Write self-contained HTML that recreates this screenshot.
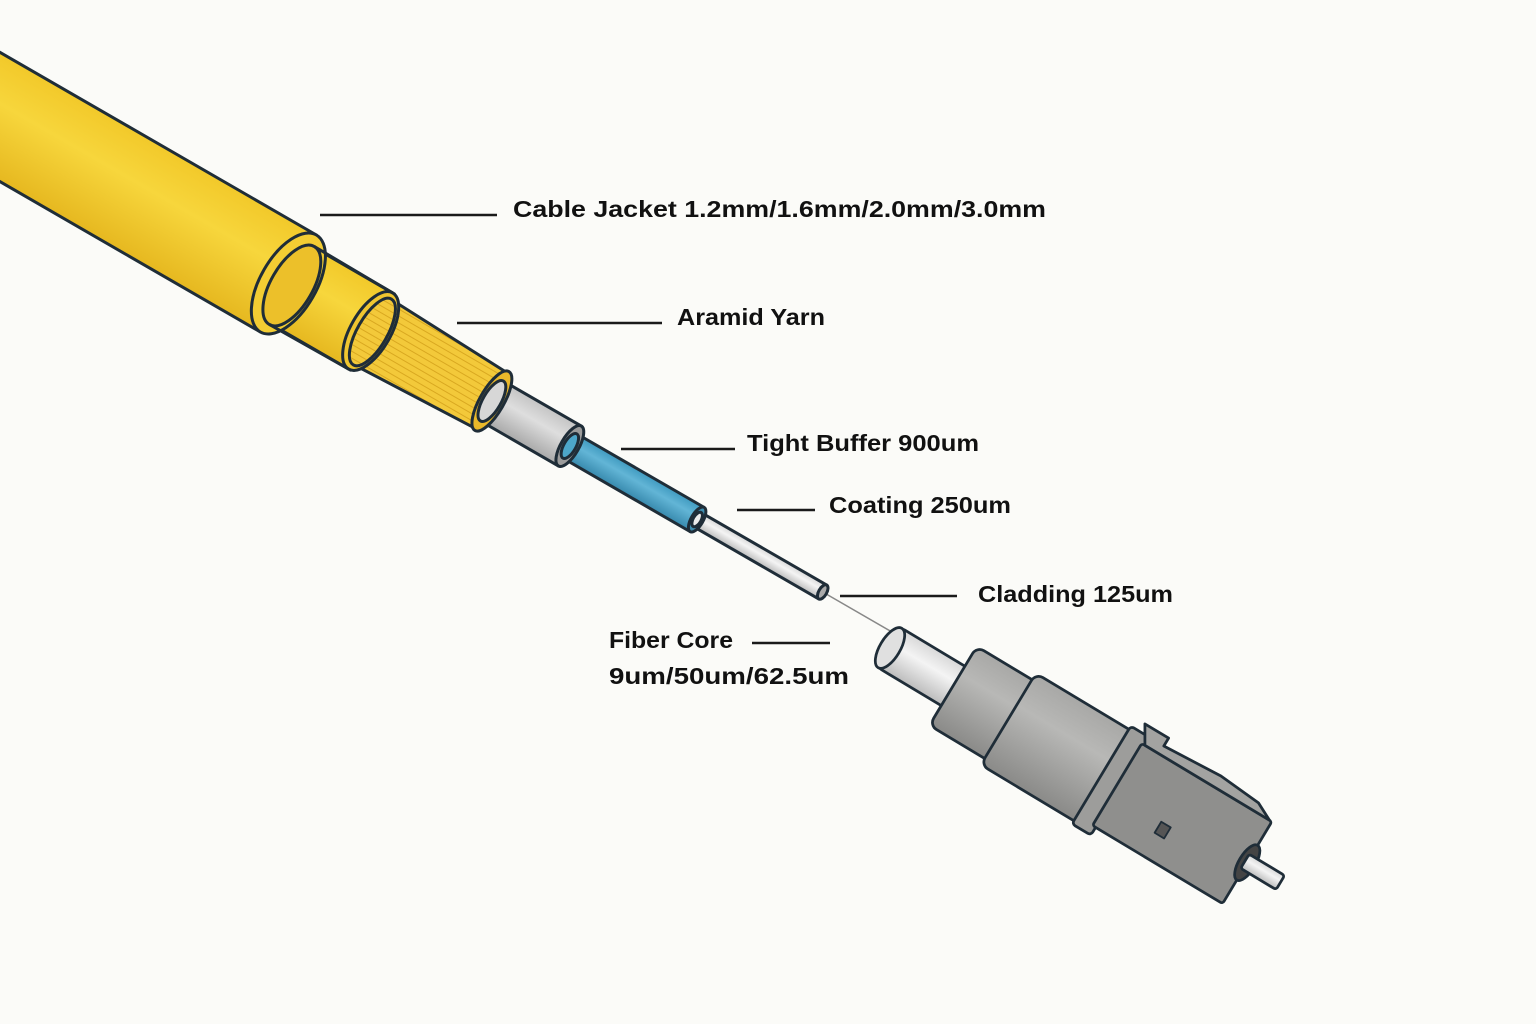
<!DOCTYPE html>
<html><head><meta charset="utf-8"><style>
html,body{margin:0;padding:0;background:#fbfbf8;}
svg{display:block}
text{font-family:"Liberation Sans",sans-serif;font-weight:bold;font-size:23px;fill:#111;}
</style></head><body>
<svg width="1536" height="1024" viewBox="0 0 1536 1024" xmlns="http://www.w3.org/2000/svg">
<defs>
<linearGradient id="yel" x1="0" y1="0" x2="0" y2="1"><stop offset="0" stop-color="#f2c92a"/><stop offset="0.4" stop-color="#f7d63c"/><stop offset="1" stop-color="#e6b820"/></linearGradient>
<linearGradient id="gry" x1="0" y1="0" x2="0" y2="1"><stop offset="0" stop-color="#c4c4c4"/><stop offset="0.4" stop-color="#dedede"/><stop offset="1" stop-color="#a9a9a9"/></linearGradient>
<linearGradient id="blu" x1="0" y1="0" x2="0" y2="1"><stop offset="0" stop-color="#3f9ac0"/><stop offset="0.4" stop-color="#62b5d6"/><stop offset="1" stop-color="#3789ad"/></linearGradient>
<linearGradient id="wht" x1="0" y1="0" x2="0" y2="1"><stop offset="0" stop-color="#d8d8d8"/><stop offset="0.4" stop-color="#f4f4f4"/><stop offset="1" stop-color="#bcbcbc"/></linearGradient>
<linearGradient id="con" x1="0" y1="0" x2="0" y2="1"><stop offset="0" stop-color="#a8a8a6"/><stop offset="0.35" stop-color="#b8b8b6"/><stop offset="1" stop-color="#8a8a88"/></linearGradient>
<pattern id="yarn" width="4" height="6" patternUnits="userSpaceOnUse"><rect width="4" height="6" fill="#f3c93a"/><line x1="0" y1="3" x2="4" y2="3" stroke="#d9a820" stroke-width="1"/></pattern>
</defs>
<g transform="translate(0,117) rotate(30)" stroke="#1f2d38" stroke-width="3" stroke-linejoin="round">
  <line x1="940" y1="0" x2="1045" y2="0" stroke="#888" stroke-width="1.5"/>
  <rect x="790" y="-8" width="160" height="16" fill="url(#wht)"/>
  <ellipse cx="950" cy="0" rx="4" ry="8" fill="#aaa"/>
  <rect x="640" y="-14" width="165" height="28" fill="url(#blu)"/>
  <ellipse cx="805" cy="0" rx="6" ry="14" fill="#3f8eb0"/>
  <ellipse cx="805" cy="0" rx="4" ry="8" fill="#ececec"/>
  <rect x="550" y="-23" width="108" height="46" fill="url(#gry)"/>
  <ellipse cx="658" cy="0" rx="9" ry="23" fill="#9c9c9c"/>
  <ellipse cx="658" cy="0" rx="6" ry="14" fill="#4da6c9"/>
  <path d="M420,-38 L568,-32 L568,32 L420,38 Z" fill="url(#yarn)"/>
  <ellipse cx="568" cy="0" rx="12" ry="34" fill="#e9b82a"/>
  <ellipse cx="568" cy="0" rx="9" ry="23" fill="#d7d7d7"/>
  <rect x="330" y="-44" width="100" height="88" fill="url(#yel)"/>
  <ellipse cx="428" cy="0" rx="20" ry="44" fill="#f0c630"/>
  <ellipse cx="430" cy="0" rx="15" ry="38" fill="url(#yarn)"/>
  <rect x="-60" y="-56" width="393" height="112" fill="url(#yel)"/>
  <ellipse cx="333" cy="0" rx="28" ry="56" fill="#f3cd33"/>
  <ellipse cx="337" cy="0" rx="21" ry="45" fill="#ecc02a"/>
  <path d="M337,-45 L428,-44 M337,45 L428,44" fill="none"/>
</g>
<g transform="translate(890,648) rotate(31) scale(0.92)" stroke="#1f2d38" stroke-width="3" stroke-linejoin="round">
  <rect x="0" y="-25" width="90" height="50" rx="4" fill="url(#wht)"/>
  <ellipse cx="0" cy="0" rx="11" ry="25" fill="#e0e0e0"/>
  <rect x="80" y="-50" width="80" height="100" rx="9" fill="url(#con)"/>
  <rect x="150" y="-58" width="125" height="116" rx="9" fill="url(#con)"/>
  <rect x="268" y="-62" width="24" height="124" rx="4" fill="#9d9d9b"/>
  <rect x="288" y="-52" width="165" height="104" rx="3" fill="#8f8f8d"/>
  <path d="M280,-72 L310,-72 L310,-62 L380,-66 L430,-62 L450,-52 L292,-52 Z" fill="#a3a3a1"/>
  <rect x="350" y="10" width="12" height="14" fill="#555" stroke-width="2"/>
  <ellipse cx="453" cy="0" rx="9" ry="22" fill="#444"/>
  <rect x="450" y="-9" width="45" height="18" rx="3" fill="url(#wht)"/>
</g>
<g stroke="#1a1a1a" stroke-width="2.5">
  <line x1="320" y1="215" x2="497" y2="215"/>
  <line x1="457" y1="323" x2="662" y2="323"/>
  <line x1="621" y1="449" x2="735" y2="449"/>
  <line x1="737" y1="510" x2="815" y2="510"/>
  <line x1="840" y1="596" x2="957" y2="596"/>
  <line x1="752" y1="643" x2="830" y2="643"/>
</g>
<text x="513" y="217" textLength="533" lengthAdjust="spacingAndGlyphs">Cable Jacket 1.2mm/1.6mm/2.0mm/3.0mm</text>
<text x="677" y="325" textLength="148" lengthAdjust="spacingAndGlyphs">Aramid Yarn</text>
<text x="747" y="451" textLength="232" lengthAdjust="spacingAndGlyphs">Tight Buffer 900um</text>
<text x="829" y="513" textLength="182" lengthAdjust="spacingAndGlyphs">Coating 250um</text>
<text x="978" y="602" textLength="195" lengthAdjust="spacingAndGlyphs">Cladding 125um</text>
<text x="609" y="648" textLength="124" lengthAdjust="spacingAndGlyphs">Fiber Core</text>
<text x="609" y="684" textLength="240" lengthAdjust="spacingAndGlyphs">9um/50um/62.5um</text>
</svg>
</body></html>
